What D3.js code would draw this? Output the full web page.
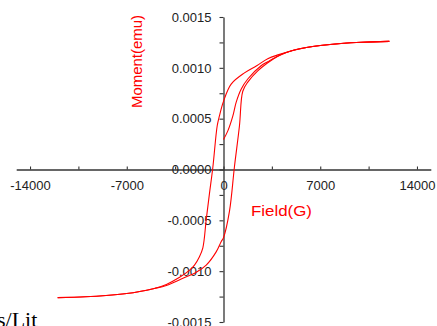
<!DOCTYPE html>
<html>
<head>
<meta charset="utf-8">
<script src="https://cdn.jsdelivr.net/npm/d3@7"></script>
<style>
    body { margin: 0; background: #fff; }
    svg { display: block; font-family: "Liberation Sans", Arial, sans-serif; }
</style>
</head>
<body>
<svg id="chart" width="437" height="326"></svg>
<script>
// field (G) / moment (emu)
const virginField = [0, 313, 673, 914, 1275, 1756, 2720, 3200, 4000, 5000, 6000, 7000, 8500, 10000, 12000];
const virginMoment = [0.000296, 0.00038, 0.000525, 0.00066, 0.00079, 0.00089, 0.00102, 0.00106, 0.00112, 0.00117, 0.0012, 0.00122, 0.00124, 0.001252, 0.00126];

const downField = [12000, 10000, 8500, 7000, 6000, 5000, 4000, 3200, 2400, 1516, 554, 0, -290, -455, -772, -1010, -1248, -1494,
    -1750, -2100, -2450, -3175, -4135, -5000, -6060, -7000, -8500, -10000, -12000];
const downMoment = [0.00126, 0.001252, 0.00124, 0.00122, 0.0012, 0.00117, 0.00113, 0.00109, 0.00102, 0.00095, 0.00084, 0.00067, 0.00053, 0.00043, 0.00002, -0.00023, -0.00049, -0.00077,
    -0.00086, -0.00094, -0.00099, -0.00106, -0.00113, -0.00117, -0.0012, -0.00122, -0.00124, -0.001252, -0.00126];

const upField = [-12000, -10000, -8500, -7000, -6060, -5000, -4135, -2935, -1970, -1250, -530, -170, 0, 433, 794, 1155, 1395,
    1756, 2478, 3200, 4000, 5000, 6000, 7000, 8500, 10000, 12000];
const upMoment = [-0.00126, -0.001252, -0.00124, -0.00122, -0.0012, -0.00117, -0.00114, -0.00107, -0.00101, -0.00094, -0.00081, -0.00071, -0.00067, -0.00041, 0.00003, 0.00043, 0.00077,
    0.00086, 0.00097, 0.00105, 0.00112, 0.00117, 0.0012, 0.00122, 0.00124, 0.001252, 0.00126];

const xTicks = [-14000, -10500, -7000, -3500, 0, 3500, 7000, 10500, 14000];
const xLabels = [-14000, -7000, 0, 7000, 14000];
const yTicks = [-0.0015, -0.00125, -0.001, -0.00075, -0.0005, -0.00025, 0, 0.00025, 0.0005, 0.00075, 0.001, 0.00125, 0.0015];
const yLabels = [-0.0015, -0.001, -0.0005, 0, 0.0005, 0.001, 0.0015];

const svg = d3.select('#chart');

var x = d3.scaleLinear().domain([-15000, 15000]).range([16.2, 430.8]);
var y = d3.scaleLinear().domain([-0.0015, 0.0015]).range([322, 17]);

const textColor = '#222';
const axisColor = '#333';

// x axis through y = 0, ticks pointing up, labels below
const xAxis = svg.append('g')
    .attr('transform', 'translate(0,' + y(0) + ')')
    .call(d3.axisBottom(x)
        .tickValues(xTicks)
        .tickSizeInner(-3)
        .tickSizeOuter(0)
        .tickPadding(11)
        .tickFormat((d) => (xLabels.includes(d) ? String(d) : '')));

// y axis through x = 0, ticks to the left
const yAxis = svg.append('g')
    .attr('transform', 'translate(' + x(0) + ',0)')
    .call(d3.axisLeft(y)
        .tickValues(yTicks)
        .tickSizeInner(4)
        .tickSizeOuter(0)
        .tickPadding(8)
        .tickFormat((d) => {
            const hit = yLabels.some((v) => Math.abs(v - d) < 1e-9);
            return hit ? d.toFixed(4) : '';
        }));

[xAxis, yAxis].forEach((g) => {
    g.select('.domain').attr('stroke', axisColor).attr('stroke-width', 1.3);
    g.selectAll('.tick line').attr('stroke', axisColor).attr('stroke-width', 1.1);
    g.selectAll('.tick text')
        .attr('fill', textColor)
        .style('font-size', '13px')
        .style('font-family', '"Liberation Sans", Arial, sans-serif');
});

const line = d3.line()
    .x((d) => x(d[0]))
    .y((d) => y(d[1]))
    .curve(d3.curveCatmullRom.alpha(0.5));

const branches = [
    d3.zip(virginField, virginMoment),
    d3.zip(downField, downMoment),
    d3.zip(upField, upMoment),
];

svg.append('g')
    .selectAll('path')
    .data(branches)
    .enter()
    .append('path')
    .attr('d', line)
    .attr('fill', 'none')
    .attr('stroke', '#ff0000')
    .attr('stroke-width', 1.1)
    .attr('stroke-linejoin', 'round');

// axis titles
svg.append('text')
    .attr('transform', 'translate(142,61.5) rotate(-90)')
    .attr('text-anchor', 'middle')
    .attr('fill', '#ff0000')
    .attr('textLength', 93)
    .attr('lengthAdjust', 'spacingAndGlyphs')
    .style('font-size', '15px')
    .text('Moment(emu)');

svg.append('text')
    .attr('x', 251)
    .attr('y', 216)
    .attr('fill', '#ff0000')
    .attr('textLength', 61)
    .attr('lengthAdjust', 'spacingAndGlyphs')
    .style('font-size', '15px')
    .text('Field(G)');

// stray text from the page underneath
svg.append('text')
    .attr('x', -3)
    .attr('y', 327)
    .attr('fill', '#000')
    .style('font-family', '"Liberation Serif", "Times New Roman", serif')
    .style('font-size', '22px')
    .text('s/Lit');
</script>
</body>
</html>
